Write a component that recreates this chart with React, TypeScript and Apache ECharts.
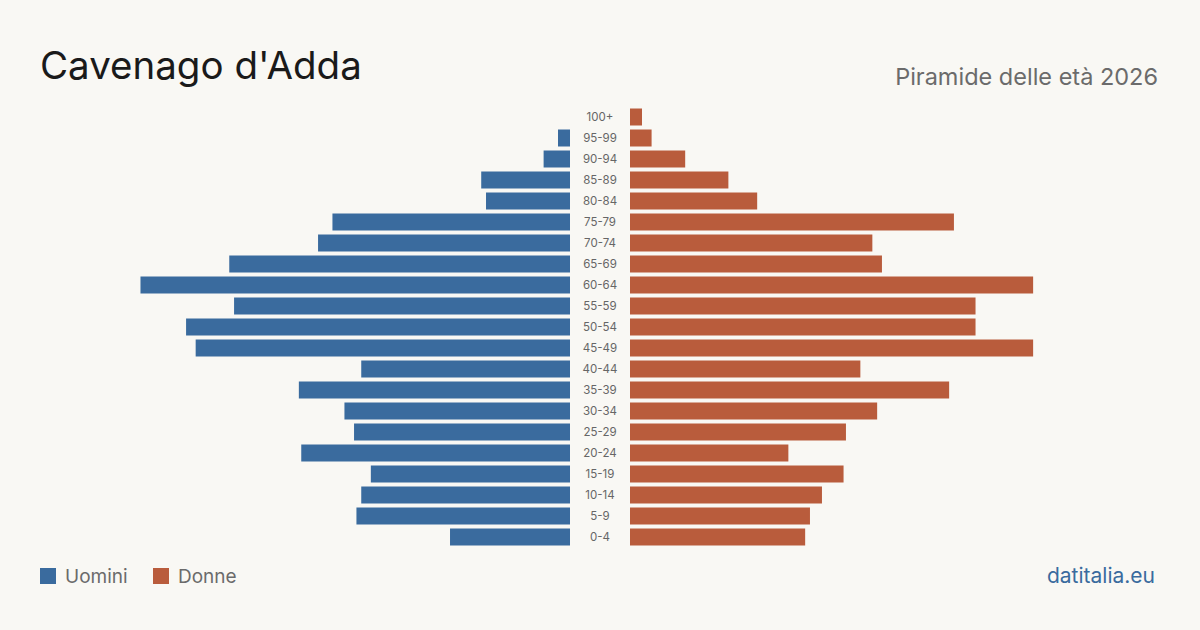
import React, { useEffect, useRef } from "react";
import * as echarts from "echarts";

const ageGroups = ["100+", "95-99", "90-94", "85-89", "80-84", "75-79", "70-74", "65-69", "60-64", "55-59", "50-54", "45-49", "40-44", "35-39", "30-34", "25-29", "20-24", "15-19", "10-14", "5-9", "0-4"];
const men = [0, 5, 11, 37, 35, 99, 105, 142, 179, 140, 160, 156, 87, 113, 94, 90, 112, 83, 87, 89, 50];
const women = [5, 9, 23, 41, 53, 135, 101, 105, 168, 144, 144, 168, 96, 133, 103, 90, 66, 89, 80, 75, 73];
const axisMax = 179.2;

const BLUE = "#3a6b9e";
const ORANGE = "#b95c3c";
const FONT = "Inter, 'Noto Sans', sans-serif";

export default function App() {
  const ref = useRef<HTMLDivElement>(null);
  useEffect(() => {
    document.body.style.margin = "0";
    const chart = echarts.init(ref.current!, null, { renderer: "svg" });
    const top = 106.5;
    const height = 441;
    chart.setOption({
      animation: false,
      backgroundColor: "#f9f8f4",
      textStyle: { fontFamily: FONT },
      grid: [
        { left: 140, width: 430, top, height },
        { left: 630, width: 430, top, height },
      ],
      xAxis: [
        { gridIndex: 0, type: "value", min: 0, max: axisMax, inverse: true, show: false },
        { gridIndex: 1, type: "value", min: 0, max: axisMax, show: false },
      ],
      yAxis: [
        {
          gridIndex: 0, type: "category", data: ageGroups, inverse: true, position: "right",
          axisLine: { show: false }, axisTick: { show: false },
          axisLabel: { margin: 30, align: "center", color: "#666", fontSize: 11.5, fontFamily: FONT },
        },
        {
          gridIndex: 1, type: "category", data: ageGroups, inverse: true,
          axisLine: { show: false }, axisTick: { show: false }, axisLabel: { show: false },
        },
      ],
      series: [
        { type: "bar", name: "Uomini", xAxisIndex: 0, yAxisIndex: 0, data: men, barWidth: 17, itemStyle: { color: BLUE } },
        { type: "bar", name: "Donne", xAxisIndex: 1, yAxisIndex: 1, data: women, barWidth: 17, itemStyle: { color: ORANGE } },
      ],
      graphic: [
        { type: "text", left: 40, top: 45, style: { text: "Cavenago d'Adda", fontSize: 38.5, fill: "#1a1a1a", fontFamily: FONT } },
        { type: "text", right: 42, top: 64, style: { text: "Piramide delle età 2026", fontSize: 23.5, fill: "#6b6b6b", fontFamily: FONT } },
        { type: "rect", shape: { x: 40, y: 568, width: 16, height: 16 }, style: { fill: BLUE } },
        { type: "text", left: 65, top: 566.5, style: { text: "Uomini", fontSize: 19, fill: "#6b6b6b", fontFamily: FONT } },
        { type: "rect", shape: { x: 153, y: 568, width: 16, height: 16 }, style: { fill: ORANGE } },
        { type: "text", left: 178, top: 566.5, style: { text: "Donne", fontSize: 19, fill: "#6b6b6b", fontFamily: FONT } },
        { type: "text", right: 45, top: 565, style: { text: "datitalia.eu", fontSize: 21, fill: BLUE, fontFamily: FONT } },
      ],
    });
    return () => chart.dispose();
  }, []);
  return <div ref={ref} style={{ width: 1200, height: 630 }} />;
}
